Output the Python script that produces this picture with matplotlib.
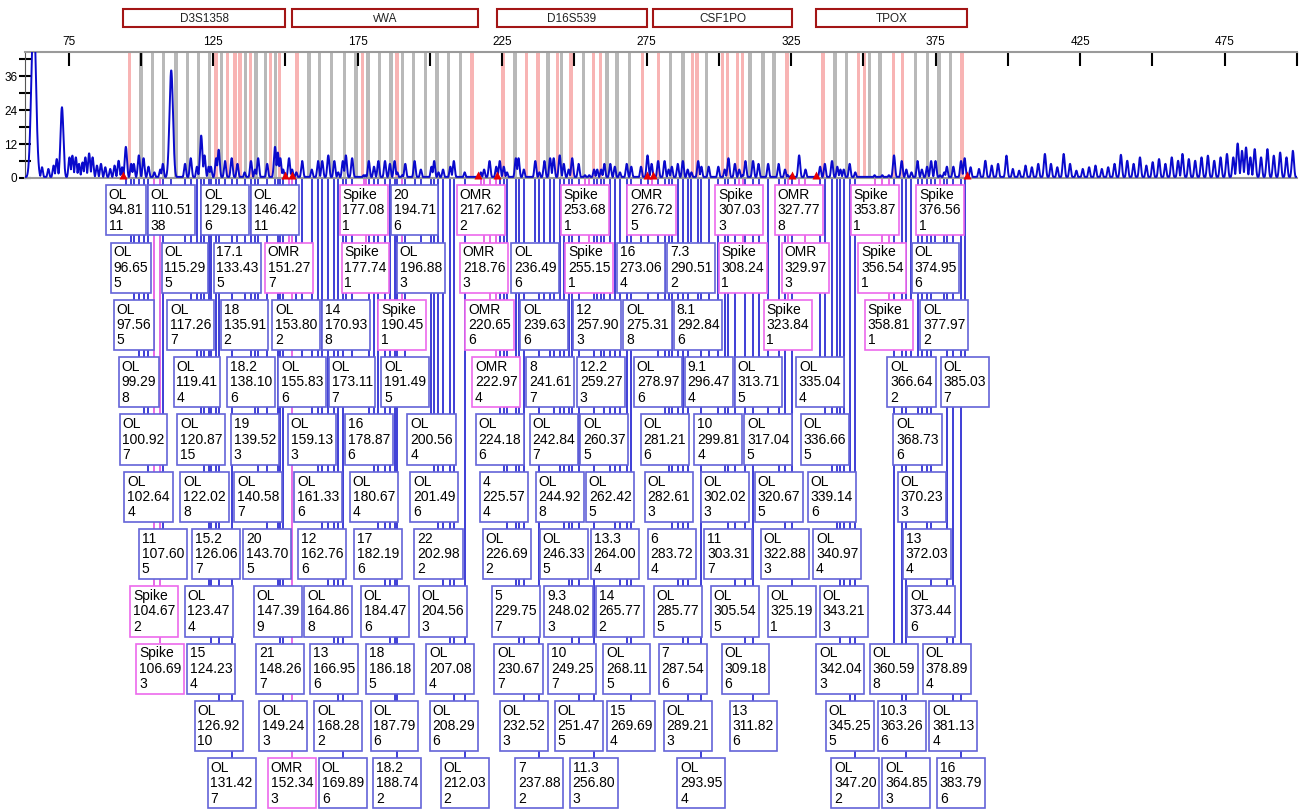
import matplotlib
matplotlib.use("Agg")

import matplotlib.pyplot as plt
import numpy as np
from matplotlib.patches import Rectangle
from matplotlib.ticker import MultipleLocator, FixedLocator

plt.rcParams["font.family"] = ["Liberation Sans", "DejaVu Sans"]

W, H = 1304, 811

# ── loci and bins ──────────────────────────────────────────────────────
locus_names = ["D3S1358", "vWA", "D16S539", "CSF1PO", "TPOX"]
locus_start = [93.8, 152.3, 223.2, 277.2, 333.6]
locus_end = [149.9, 216.7, 275.1, 325.3, 385.9]

gray_bins = [100.0, 104.0, 107.8, 112.2, 116.2, 119.9, 123.7, 127.9, 136.2,
             139.8, 143.2, 146.6, 158.2, 161.8, 165.9, 170.5, 174.5, 178.6,
             182.5, 186.5, 190.6, 194.4, 198.4, 202.5, 206.5, 210.6, 229.4,
             240.9, 245.6, 253.2, 261.3, 264.8, 269.1, 283.3, 287.6, 295.7,
             310.7, 315.2, 319.1, 340.2, 344.1, 352.1, 355.8, 368.1, 372.1,
             376.2, 380.1]
pink_bins = [96.1, 126.0, 130.0, 132.5, 134.3, 137.9, 144.8, 148.0, 154.0,
             176.7, 188.6, 214.6, 225.3, 233.4, 237.4, 244.2, 248.8, 256.7,
             259.0, 273.6, 279.2, 290.8, 292.5, 301.2, 302.9, 306.4, 308.1,
             323.5, 336.0, 348.4, 350.4, 360.4, 363.5, 384.2]

# ── labelled peaks (listed row by row) ─────────────────────────────────
label_calls = [
    "OL", "OL", "OL", "OL", "Spike", "20", "OMR", "Spike", "OMR", "Spike", "OMR", "Spike", "Spike",
    "OL", "OL", "17.1", "OMR", "Spike", "OL", "OMR", "OL", "Spike", "16", "7.3", "Spike", "OMR", "Spike", "OL",
    "OL", "OL", "18", "OL", "14", "Spike", "OMR", "OL", "12", "OL", "8.1", "Spike", "Spike", "OL",
    "OL", "OL", "18.2", "OL", "OL", "OL", "OMR", "8", "12.2", "OL", "9.1", "OL", "OL", "OL", "OL",
    "OL", "OL", "19", "OL", "16", "OL", "OL", "OL", "OL", "OL", "10", "OL", "OL", "OL",
    "OL", "OL", "OL", "OL", "OL", "OL", "4", "OL", "OL", "OL", "OL", "OL", "OL", "OL",
    "11", "15.2", "20", "12", "17", "22", "OL", "OL", "13.3", "6", "11", "OL", "OL", "13",
    "Spike", "OL", "OL", "OL", "OL", "OL", "5", "9.3", "14", "OL", "OL", "OL", "OL", "OL",
    "Spike", "15", "21", "13", "18", "OL", "OL", "10", "OL", "7", "OL", "OL", "OL", "OL",
    "OL", "OL", "OL", "OL", "OL", "OL", "OL", "15", "OL", "13", "OL", "10.3", "OL",
    "OL", "OMR", "OL", "18.2", "OL", "7", "11.3", "OL", "OL", "OL", "16",
]
label_sizes = [
    94.81, 110.51, 129.13, 146.42, 177.08, 194.71, 217.62, 253.68, 276.72, 307.03, 327.77, 353.87, 376.56,
    96.65, 115.29, 133.43, 151.27, 177.74, 196.88, 218.76, 236.49, 255.15, 273.06, 290.51, 308.24, 329.97, 356.54, 374.95,
    97.56, 117.26, 135.91, 153.80, 170.93, 190.45, 220.65, 239.63, 257.90, 275.31, 292.84, 323.84, 358.81, 377.97,
    99.29, 119.41, 138.10, 155.83, 173.11, 191.49, 222.97, 241.61, 259.27, 278.97, 296.47, 313.71, 335.04, 366.64, 385.03,
    100.92, 120.87, 139.52, 159.13, 178.87, 200.56, 224.18, 242.84, 260.37, 281.21, 299.81, 317.04, 336.66, 368.73,
    102.64, 122.02, 140.58, 161.33, 180.67, 201.49, 225.57, 244.92, 262.42, 282.61, 302.02, 320.67, 339.14, 370.23,
    107.60, 126.06, 143.70, 162.76, 182.19, 202.98, 226.69, 246.33, 264.00, 283.72, 303.31, 322.88, 340.97, 372.03,
    104.67, 123.47, 147.39, 164.86, 184.47, 204.56, 229.75, 248.02, 265.77, 285.77, 305.54, 325.19, 343.21, 373.44,
    106.69, 124.23, 148.26, 166.95, 186.18, 207.08, 230.67, 249.25, 268.11, 287.54, 309.18, 342.04, 360.59, 378.89,
    126.92, 149.24, 168.28, 187.79, 208.29, 232.52, 251.47, 269.69, 289.21, 311.82, 345.25, 363.26, 381.13,
    131.42, 152.34, 169.89, 188.74, 212.03, 237.88, 256.80, 293.95, 347.20, 364.85, 383.79,
]
label_heights = [
    11, 38, 6, 11, 1, 6, 2, 1, 5, 3, 8, 1, 1,
    5, 5, 5, 7, 1, 3, 3, 6, 1, 4, 2, 1, 3, 1, 6,
    5, 7, 2, 2, 8, 1, 6, 6, 3, 8, 6, 1, 1, 2,
    8, 4, 6, 6, 7, 5, 4, 7, 3, 6, 4, 5, 4, 2, 7,
    7, 15, 3, 3, 6, 4, 6, 7, 5, 6, 4, 5, 5, 6,
    4, 8, 7, 6, 4, 6, 4, 8, 5, 3, 3, 5, 6, 3,
    5, 7, 5, 6, 6, 2, 2, 5, 4, 4, 7, 3, 4, 4,
    2, 4, 9, 8, 6, 3, 7, 3, 2, 5, 5, 1, 3, 6,
    3, 4, 7, 6, 5, 4, 7, 7, 5, 6, 6, 3, 8, 4,
    10, 3, 2, 6, 6, 3, 5, 4, 3, 6, 5, 6, 4,
    7, 3, 6, 2, 2, 2, 3, 4, 2, 3, 6,
]
row_counts = [13, 15, 14, 15, 14, 14, 14, 14, 14, 13, 11]

# ── unlabelled peaks before and after the loci ─────────────────────────
noise_sizes = [61.8, 62.9, 65.8, 68.0, 69.8, 70.9, 72.7, 75.3, 76.3, 77.5,
               78.6, 79.8, 80.8, 82.1, 83.3, 84.8, 86.2, 87.7, 89.4, 90.9,
               92.3, 93.5,
               387.1, 390.0, 392.2, 394.4, 396.6, 399.5, 401.7, 403.9, 406.1,
               408.3, 410.5, 412.8, 414.9, 417.1, 419.3, 421.5, 423.7, 425.9,
               428.1, 430.3, 432.5, 434.7, 436.9, 439.1, 441.3, 443.5, 445.7,
               447.9, 450.1, 452.3, 454.5, 456.7, 458.9, 460.4, 462.6, 464.8,
               467.0, 469.2, 471.4, 473.6, 475.8, 478.0, 479.5, 481.0, 482.4,
               483.9, 485.4, 487.6, 489.8, 492.0, 494.2, 496.4, 498.6]
noise_heights = [8.5, 60, 3.8, 3.2, 4.4, 6.7, 25, 7.3, 7.9, 7.3,
                 5.0, 5.5, 7.3, 8.7, 7.3, 4.4, 5.0, 3.8, 3.2, 4.4,
                 6.1, 3.8,
                 3.8, 3.2, 6.1, 4.4, 5.0, 7.9, 3.2, 2.6, 4.4,
                 3.8, 5.0, 8.5, 5.0, 3.8, 8.5, 5.0, 2.6, 3.2,
                 3.8, 4.4, 3.2, 3.8, 5.0, 8.2, 6.1, 5.0, 7.3,
                 4.4, 5.6, 6.7, 5.0, 7.3, 6.1, 8.5, 6.7, 6.1,
                 7.3, 7.9, 6.1, 7.3, 8.5, 7.3, 12.2, 9.6, 10.8,
                 7.3, 10.2, 7.3, 10.2, 7.9, 9.0, 7.3, 9.6]

BLUE = "#0a0acc"
BOX_BLUE = "#6464d8"
MAGENTA = "#e040e0"
BOX_MAG = "#ec6aec"

# ── figure layout (pixel based) ────────────────────────────────────────
fig = plt.figure(figsize=(W / 100, H / 100), dpi=100, facecolor="white")
x0_px, x1_px = 25.25, 1296.9
top_px, base_px = 52, 178

ax = fig.add_axes([x0_px / W, 1 - base_px / H, (x1_px - x0_px) / W,
                   (base_px - top_px) / H], zorder=2)
lay = fig.add_axes([x0_px / W, 0, (x1_px - x0_px) / W, 1], zorder=1)
lay.set_xlim(60, 500)
lay.set_ylim(H, 0)
lay.axis("off")
lay.patch.set_alpha(0)

# ── electropherogram trace ─────────────────────────────────────────────
ps = np.array(noise_sizes + label_sizes)
ph = np.array(noise_heights + label_heights, dtype=float)
grid = np.arange(60, 500.01, 0.05)
sig = 0.3 + 0.008 * ph
shapes = ph[:, None] * np.exp(-0.5 * ((grid[None, :] - ps[:, None]) / sig[:, None]) ** 2)
trace = np.maximum(shapes.max(axis=0), 0.4)

ax.set_xlim(60, 500)
ax.set_ylim(0, 44.5)
for b in gray_bins:
    ax.axvspan(b - 0.6, b + 0.6, color="#b9b9b9", lw=0, zorder=0)
for b in pink_bins:
    ax.axvspan(b - 0.6, b + 0.6, color="#f8b4b4", lw=0, zorder=0)
ax.plot(grid, trace, color=BLUE, lw=1.4, zorder=3)

edges = locus_start + locus_end
ax.plot(edges, [1.1] * len(edges), "^", color="#e80000", ms=6, mec="none",
        zorder=4, clip_on=False)

ax.xaxis.tick_top()
ax.xaxis.set_major_locator(FixedLocator(np.arange(75, 500, 50)))
ax.xaxis.set_minor_locator(FixedLocator(np.arange(100, 501, 50)))
ax.tick_params(axis="x", which="both", direction="in", length=10, width=1.5,
               color="black", labelsize=8.5, pad=3)
ax.yaxis.set_major_locator(MultipleLocator(12))
ax.yaxis.set_minor_locator(MultipleLocator(6))
ax.tick_params(axis="y", which="both", direction="inout", length=9, width=1.5,
               color="black", labelsize=8.5, pad=1)
for side in ("top", "bottom"):
    ax.spines[side].set_color("#9a9a9a")
    ax.spines[side].set_linewidth(1.5)
ax.spines["left"].set_color("#555555")
ax.spines["right"].set_visible(False)

# ── locus header boxes ─────────────────────────────────────────────────
for name, s, e in zip(locus_names, locus_start, locus_end):
    lay.add_patch(Rectangle((s, 9), e - s, 18, fc="white", ec="#a31515",
                            lw=1.5, zorder=2))
    lay.text((s + e) / 2, 18.5, name, ha="center", va="center",
             fontsize=8.5, color="#222222", zorder=3)

# ── peak label boxes with leader lines ─────────────────────────────────
row_top0, row_step = 185.0, 57.3
rows = np.repeat(np.arange(len(row_counts)), row_counts)
for call, size, height, r in zip(label_calls, label_sizes, label_heights, rows):
    top = row_top0 + r * row_step
    special = call in ("Spike", "OMR")
    lay.plot([size, size], [base_px, top], color=MAGENTA if special else BLUE,
             lw=1.1, zorder=1, solid_capstyle="butt")
    lay.text(size, top + 3, f"{call}\n{size:.2f}\n{height}", ha="center",
             va="top", multialignment="left", fontsize=10, linespacing=1.12,
             color="black", zorder=3,
             bbox=dict(boxstyle="square,pad=0.2", fc="white",
                       ec=BOX_MAG if special else BOX_BLUE, lw=1.2))

fig.savefig("out.png", dpi=100, facecolor="white")
